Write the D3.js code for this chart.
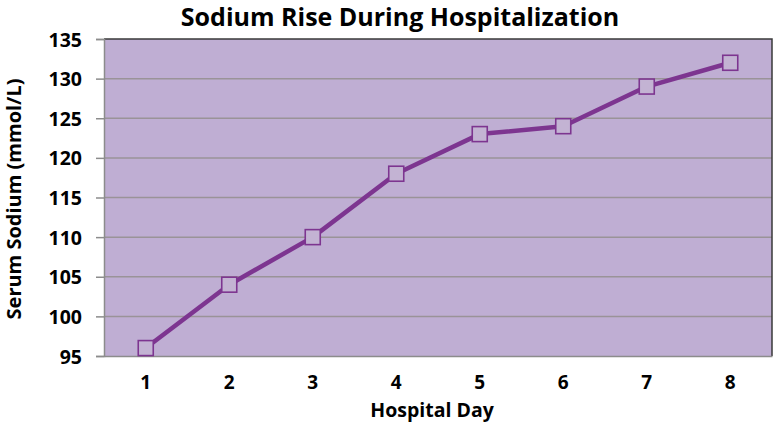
<!DOCTYPE html>
<html><head><meta charset="utf-8">
<script src="https://cdn.jsdelivr.net/npm/d3@7"></script>
<style>
html,body{margin:0;padding:0;background:#fff;}
svg text{font-family:"Open Sans",sans-serif;font-weight:bold;fill:#000;}
</style></head>
<body><svg id="c" width="774" height="424"></svg>
<script>
const days = [1,2,3,4,5,6,7,8];
const sodium = [96,104,110,118,123,124,129,132];
const yTicks = [95,100,105,110,115,120,125,130,135];
const title = "Sodium Rise During Hospitalization";
const xTitle = "Hospital Day";
const yTitle = "Serum Sodium (mmol/L)";

const svg = d3.select("#c");
const m = {l:104, r:772, t:39, b:356};
const x = d3.scaleBand().domain(days).range([m.l, m.r]);
const y = d3.scaleLinear().domain([95,135]).range([m.b, m.t]);

svg.append("rect").attr("x",m.l).attr("y",m.t).attr("width",m.r-m.l).attr("height",m.b-m.t).attr("fill","#bfaed3");

svg.append("g").selectAll("line").data(yTicks.slice(1,-1)).join("line")
  .attr("x1",m.l).attr("x2",m.r).attr("y1",d=>y(d)).attr("y2",d=>y(d))
  .attr("stroke","#9a9398").attr("stroke-width",1.5);

// top & right border
svg.append("path").attr("d",`M${m.l},${m.t}H${m.r}V${m.b}`).attr("fill","none").attr("stroke","#3a3a3a").attr("stroke-width",1.5);

const ya = svg.append("g").attr("transform",`translate(${m.l},0)`)
  .call(d3.axisLeft(y).tickValues(yTicks).tickSize(8).tickPadding(14));
ya.select(".domain").attr("stroke","#8c8c8c").attr("stroke-width",1.5);
ya.selectAll(".tick line").attr("stroke","#8c8c8c").attr("stroke-width",1.5);
ya.selectAll("text").attr("font-size",19.5).attr("font-family","Open Sans").attr("font-weight","bold").attr("fill","#000").attr("dy","0.36em");

const xa = svg.append("g").attr("transform",`translate(0,${m.b})`)
  .call(d3.axisBottom(x).tickSize(0).tickPadding(20));
xa.select(".domain").attr("stroke","#8c8c8c").attr("stroke-width",1.5);
xa.selectAll("text").attr("font-size",19).attr("font-family","Open Sans").attr("font-weight","bold").attr("fill","#000");

const cx = d => x(d) + x.bandwidth()/2;
svg.append("path").datum(days.map((d,i)=>[cx(d), y(sodium[i])]))
  .attr("d", d3.line()).attr("fill","none").attr("stroke","#7d3590").attr("stroke-width",4.5).attr("stroke-linejoin","round");

svg.append("g").selectAll("rect").data(days).join("rect")
  .attr("x",d=>cx(d)-7.5).attr("y",(d,i)=>y(sodium[i])-7.5).attr("width",15).attr("height",15)
  .attr("fill","#c3b3d3").attr("stroke","#7d3590").attr("stroke-width",1.6);

svg.append("text").attr("x",400).attr("y",26).attr("text-anchor","middle").attr("font-size",25).text(title);
svg.append("text").attr("x",432).attr("y",417).attr("text-anchor","middle").attr("font-size",19.5).text(xTitle);
svg.append("text").attr("transform","translate(21,199) rotate(-90)").attr("text-anchor","middle").attr("font-size",20).text(yTitle);
</script></body></html>
